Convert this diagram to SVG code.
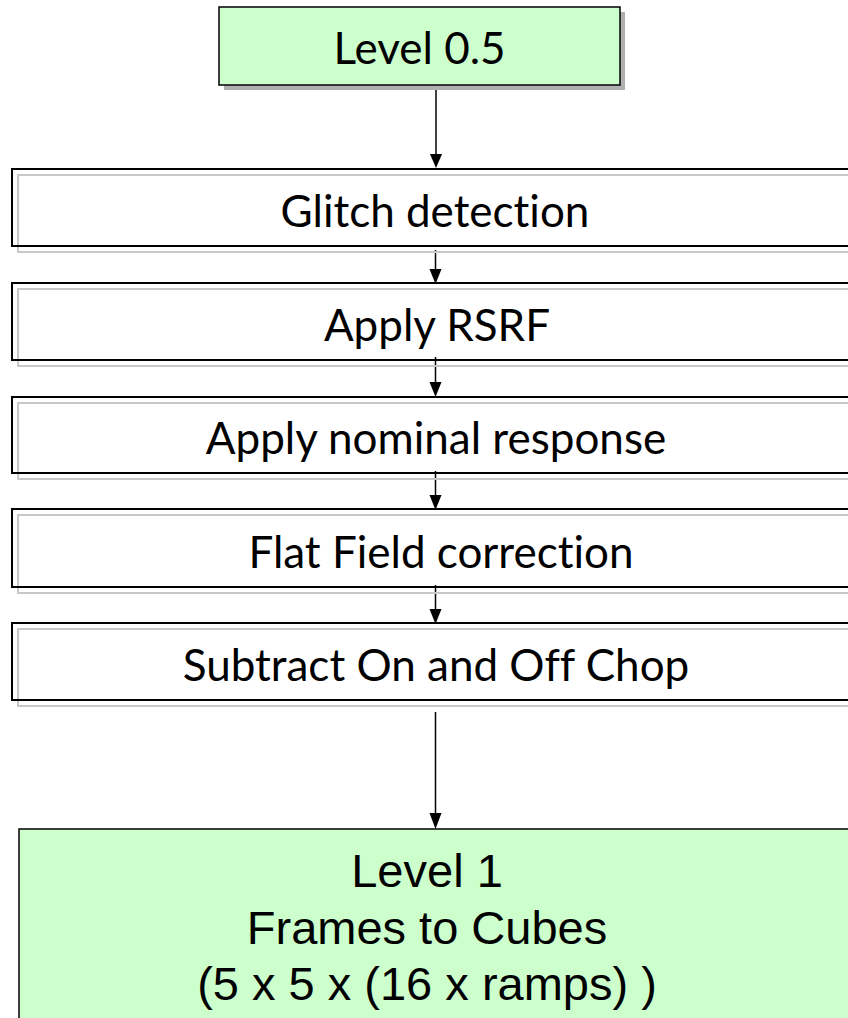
<svg xmlns="http://www.w3.org/2000/svg" width="848" height="1018" viewBox="0 0 848 1018">
<defs>
<style>
.step{fill:none;stroke:#000;stroke-width:2}
.shadow{fill:none;stroke:#c8c8c8;stroke-width:2}
.lvl{fill:#ccffcc;stroke:#000;stroke-width:1.5}
.t{font-family:Lato,"Liberation Sans",sans-serif;font-size:44px;fill:#000;text-anchor:middle;font-variant-ligatures:none}
.t2{font-family:"Liberation Sans",Arial,sans-serif;font-size:47px;fill:#000;text-anchor:middle}
.ln{stroke:#000;stroke-width:1.5;fill:none}
</style>
</defs>
<rect width="848" height="1018" fill="#fff"/>
<g id="connectors">
<path class="ln" d="M436,85 V156"/>
<path class="ln" d="M435.5,250 V270"/>
<path class="ln" d="M435.5,357 V383"/>
<path class="ln" d="M435.5,471 V496"/>
<path class="ln" d="M435.5,585 V610"/>
<path class="ln" d="M435.5,712 V815"/>
<polygon points="430,154 442,154 436,168" fill="#000"/>
<polygon points="429.5,269 441.5,269 435.5,284" fill="#000"/>
<polygon points="429.5,382 441.5,382 435.5,397" fill="#000"/>
<polygon points="429.5,495 441.5,495 435.5,510" fill="#000"/>
<polygon points="429.5,609 441.5,609 435.5,624" fill="#000"/>
<polygon points="429.5,813 441.5,813 435.5,829" fill="#000"/>
</g>
<g id="level05">
<rect x="224" y="12" width="401" height="78" fill="#b0b0b0"/>
<rect class="lvl" x="219" y="7" width="401" height="78"/>
<text class="t" x="419.5" y="64">Level 0.5</text>
</g>
<g id="glitch">
<rect class="shadow" x="18" y="175" width="860" height="77"/>
<rect class="step" x="12" y="169" width="860" height="77"/>
<text class="t" x="435" y="227">Glitch detection</text>
</g>
<g id="rsrf">
<rect class="shadow" x="18" y="289" width="860" height="77"/>
<rect class="step" x="12" y="283" width="860" height="77"/>
<text class="t" x="437" y="341">Apply RSRF</text>
</g>
<g id="nominal">
<rect class="shadow" x="18" y="403" width="860" height="76"/>
<rect class="step" x="12" y="397" width="860" height="76"/>
<text class="t" x="436" y="454">Apply nominal response</text>
</g>
<g id="flatfield">
<rect class="shadow" x="18" y="515" width="860" height="78"/>
<rect class="step" x="12" y="509" width="860" height="78"/>
<text class="t" x="441" y="568">Flat Field correction</text>
</g>
<g id="chop">
<rect class="shadow" x="18" y="629" width="860" height="77"/>
<rect class="step" x="12" y="623" width="860" height="77"/>
<text class="t" x="436" y="681">Subtract On and Off Chop</text>
</g>
<g id="level1">
<rect class="lvl" x="19" y="829" width="860" height="220"/>
<text class="t2" x="427" y="887">Level 1</text>
<text class="t2" x="427" y="944">Frames to Cubes</text>
<text class="t2" x="427" y="1000">(5 x 5 x (16 x ramps) )</text>
</g>
</svg>
